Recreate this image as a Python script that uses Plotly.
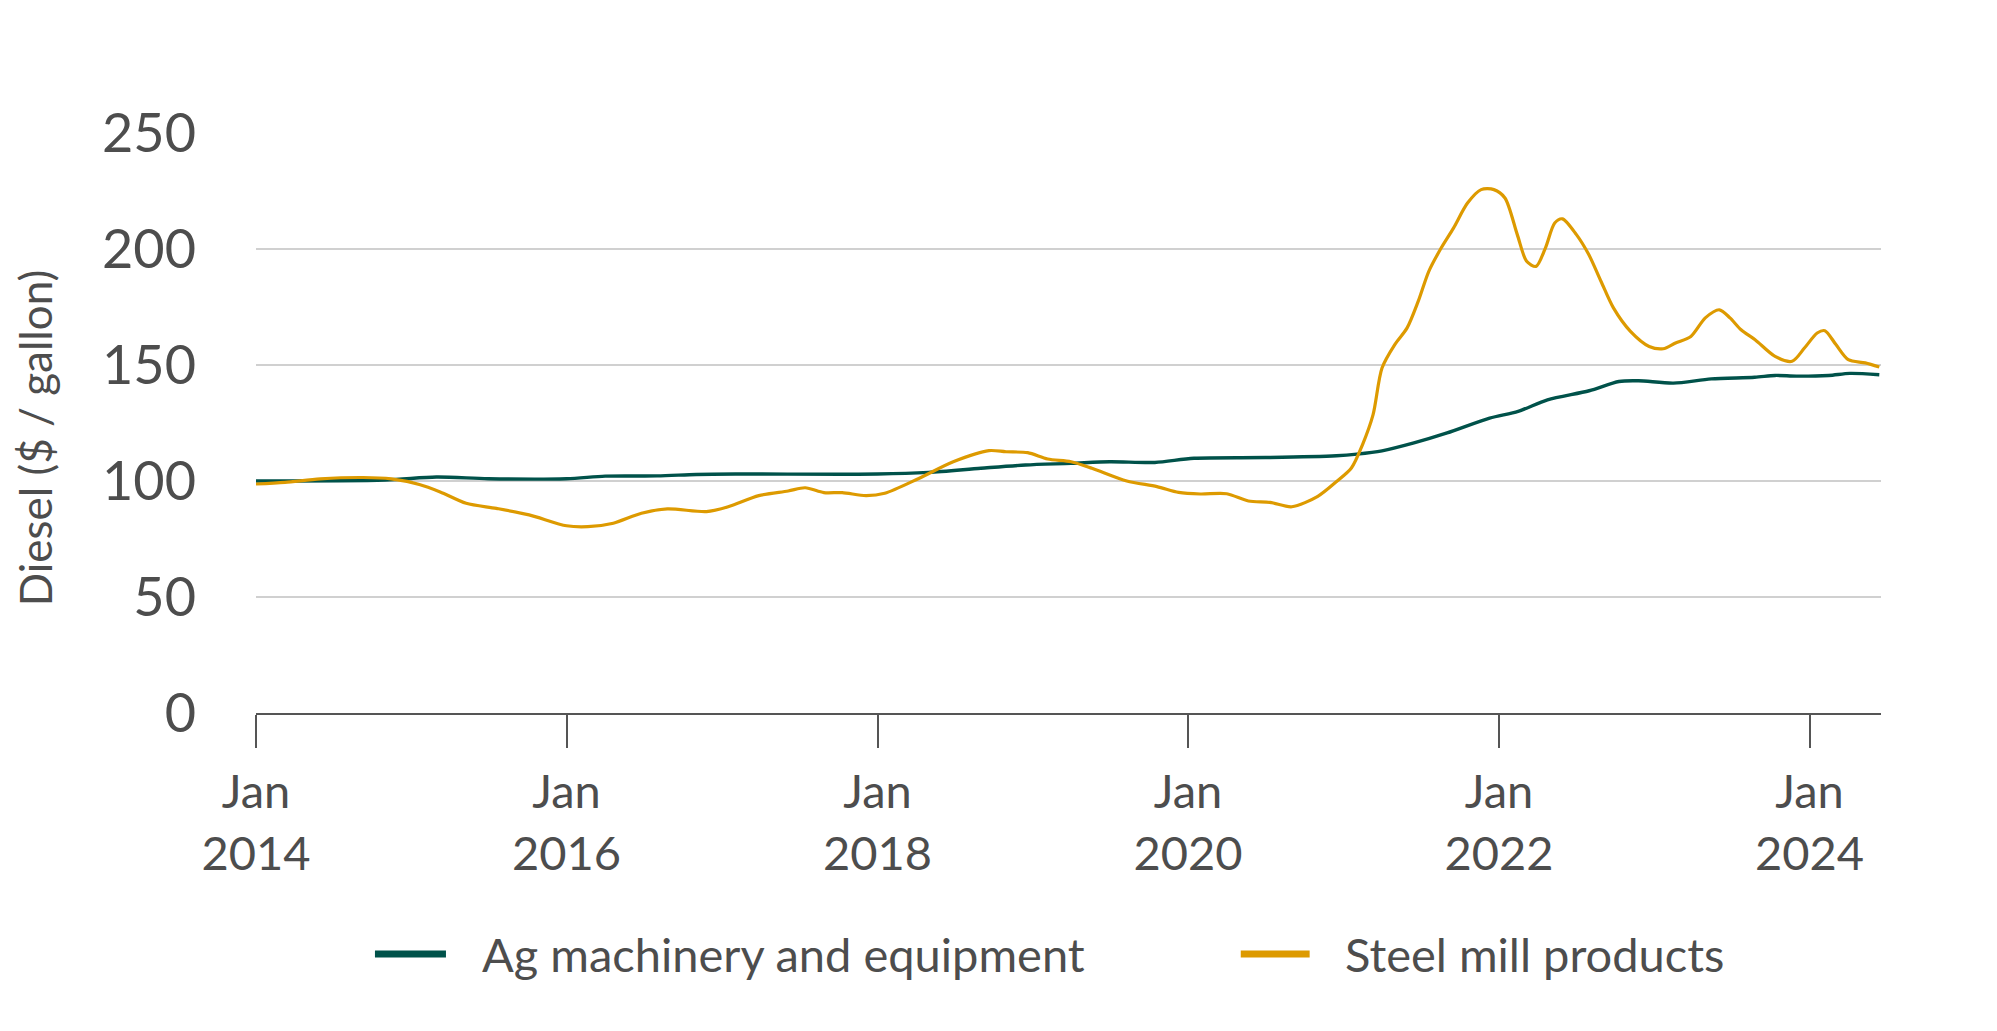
import plotly.graph_objects as go

# ---------------- data ----------------
series_names = ["Ag machinery and equipment", "Steel mill products"]

ag_dates = [
    "2014-01-01", "2014-11-01", "2015-03-01", "2015-07-01", "2016-01-01",
    "2016-04-01", "2016-08-01", "2016-11-01", "2017-02-01", "2018-01-01",
    "2018-05-01", "2018-09-01", "2018-12-15", "2019-04-01", "2019-07-01",
    "2019-10-15", "2020-01-15", "2020-07-01", "2020-12-15", "2021-02-01",
    "2021-04-01", "2021-06-15", "2021-09-01", "2021-12-10", "2022-02-15",
    "2022-04-25", "2022-08-01", "2022-10-10", "2022-11-25", "2023-02-15",
    "2023-05-15", "2023-08-25", "2023-10-12", "2023-12-01", "2024-02-15",
    "2024-04-05", "2024-06-13",
]
ag_values = [
    100.0, 100.4, 101.7, 101.0, 101.0,
    102.1, 102.2, 102.8, 103.0, 103.0,
    103.7, 105.5, 106.9, 107.6, 108.3,
    108.0, 109.8, 110.1, 110.9, 111.6,
    113.0, 116.4, 120.7, 127.1, 130.0,
    135.0, 138.9, 142.9, 143.2, 142.2,
    144.0, 144.7, 145.5, 145.2, 145.5,
    146.4, 145.8,
]

steel_dates = [
    "2014-01-01", "2014-03-10", "2014-06-01", "2014-09-10", "2014-11-15",
    "2015-01-20", "2015-03-10", "2015-05-10", "2015-07-20", "2015-10-05",
    "2016-01-01", "2016-02-20", "2016-04-20", "2016-06-25", "2016-08-25",
    "2016-11-25", "2017-01-15", "2017-03-28", "2017-06-05", "2017-07-15",
    "2017-08-28", "2017-10-10", "2017-12-05", "2018-01-18", "2018-04-08",
    "2018-06-28", "2018-09-20", "2018-10-30", "2018-12-20", "2019-02-05",
    "2019-04-01", "2019-05-20", "2019-08-10", "2019-10-20", "2019-12-10",
    "2020-01-30", "2020-04-01", "2020-05-22", "2020-07-12", "2020-09-01",
    "2020-11-01", "2020-12-16", "2021-01-19", "2021-02-14", "2021-03-11",
    "2021-04-01", "2021-05-01", "2021-05-30", "2021-06-25", "2021-07-20",
    "2021-08-18", "2021-09-16", "2021-10-19", "2021-11-20", "2021-12-20",
    "2022-01-15", "2022-02-13", "2022-03-07", "2022-03-29", "2022-04-20",
    "2022-05-12", "2022-05-30", "2022-07-02", "2022-07-31", "2022-08-29",
    "2022-09-27", "2022-11-06", "2022-12-20", "2023-01-22", "2023-02-20",
    "2023-03-28", "2023-05-01", "2023-06-03", "2023-06-28", "2023-07-24",
    "2023-08-26", "2023-10-12", "2023-11-21", "2023-12-20", "2024-01-19",
    "2024-02-06", "2024-03-03", "2024-04-01", "2024-05-11", "2024-06-13",
]
steel_values = [
    98.7, 99.4, 100.9, 101.5, 100.9,
    98.5, 95.3, 90.4, 88.2, 85.4,
    80.7, 80.3, 81.8, 86.1, 88.0,
    86.8, 88.9, 93.7, 95.7, 97.1,
    95.0, 95.0, 93.7, 94.7, 101.1,
    108.3, 113.1, 112.6, 112.2, 109.5,
    108.3, 105.5, 100.0, 97.6, 95.1,
    94.4, 94.5, 91.4, 90.8, 88.9,
    93.4, 99.9, 105.6, 115.6, 128.6,
    148.7, 158.8, 166.0, 177.4, 190.4,
    200.4, 209.0, 219.8, 225.6, 225.6,
    222.0, 206.2, 194.7, 192.5, 200.4,
    211.2, 213.0, 206.2, 197.6, 186.0,
    174.6, 164.5, 158.0, 157.0, 159.5,
    162.3, 170.3, 173.8, 170.3, 165.2,
    160.9, 153.7, 151.6, 157.3, 163.8,
    164.8, 158.8, 152.3, 150.9, 149.1,
]

x_tick_vals = ["2014-01-01", "2016-01-01", "2018-01-01", "2020-01-01", "2022-01-01", "2024-01-01"]
x_tick_text = ["Jan<br>2014", "Jan<br>2016", "Jan<br>2018", "Jan<br>2020", "Jan<br>2022", "Jan<br>2024"]
y_tick_vals = [0, 50, 100, 150, 200, 250]
y_axis_title = "Diesel ($ / gallon)"

# ---------------- style ----------------
GREEN = "#00524A"
ORANGE = "#DD9A00"
TEXT = "#4D4D4D"
GRID = "#D0D0D0"
FONT = "Lato, 'Open Sans', sans-serif"

fig = go.Figure()
fig.add_trace(go.Scatter(x=ag_dates, y=ag_values, name=series_names[0], mode="lines",
                         line=dict(color=GREEN, width=3.4, shape="spline", smoothing=0.8),
                         showlegend=False))
fig.add_trace(go.Scatter(x=steel_dates, y=steel_values, name=series_names[1], mode="lines",
                         line=dict(color=ORANGE, width=3.2, shape="spline", smoothing=0.8),
                         showlegend=False))

# custom legend (long swatches like the reference)
legend_items = [
    (series_names[0], GREEN, 0.0732, 0.1169, 0.1378),
    (series_names[1], ORANGE, 0.6060, 0.6484, 0.6687),
]
legend_y = -0.4155
for name, color, x0, x1, xt in legend_items:
    fig.add_shape(type="line", xref="paper", yref="paper", x0=x0, x1=x1,
                  y0=legend_y, y1=legend_y, line=dict(color=color, width=7))
    fig.add_annotation(xref="paper", yref="paper", x=xt, y=legend_y, text=name,
                       showarrow=False, xanchor="left", yanchor="middle",
                       font=dict(family=FONT, size=47, color=TEXT))

# y-axis title (placed like the reference, slightly below the plot centre)
fig.add_annotation(xref="paper", yref="paper", x=-0.1525, y=0.474, text=y_axis_title,
                   textangle=-90, showarrow=False, xanchor="left", yanchor="middle",
                   borderpad=0,
                   font=dict(family=FONT, size=44, color=TEXT))

fig.update_layout(
    width=1997, height=1031,
    margin=dict(l=248, r=124, t=125, b=326, autoexpand=False),
    paper_bgcolor="white", plot_bgcolor="white",
    font=dict(family=FONT, color=TEXT, size=50),
)
fig.update_xaxes(
    type="date", range=["2014-01-01", "2024-06-17"],
    tickmode="array", tickvals=x_tick_vals, ticktext=x_tick_text,
    showgrid=False, zeroline=False,
    showline=True, linecolor="#555555", linewidth=2,
    ticks="outside", ticklen=33, tickwidth=2, tickcolor="#555555",
    tickfont=dict(size=47, color=TEXT, family=FONT),
    ticklabelstandoff=4,
)
fig.update_yaxes(
    range=[0, 250], tickmode="array", tickvals=y_tick_vals,
    showgrid=True, gridcolor=GRID, gridwidth=1.5, zeroline=False,
    showline=False, ticks="",
    tickfont=dict(size=54, color=TEXT, family=FONT),
    ticklabelstandoff=59,
    automargin=False,
)

fig.write_html("out.html")
